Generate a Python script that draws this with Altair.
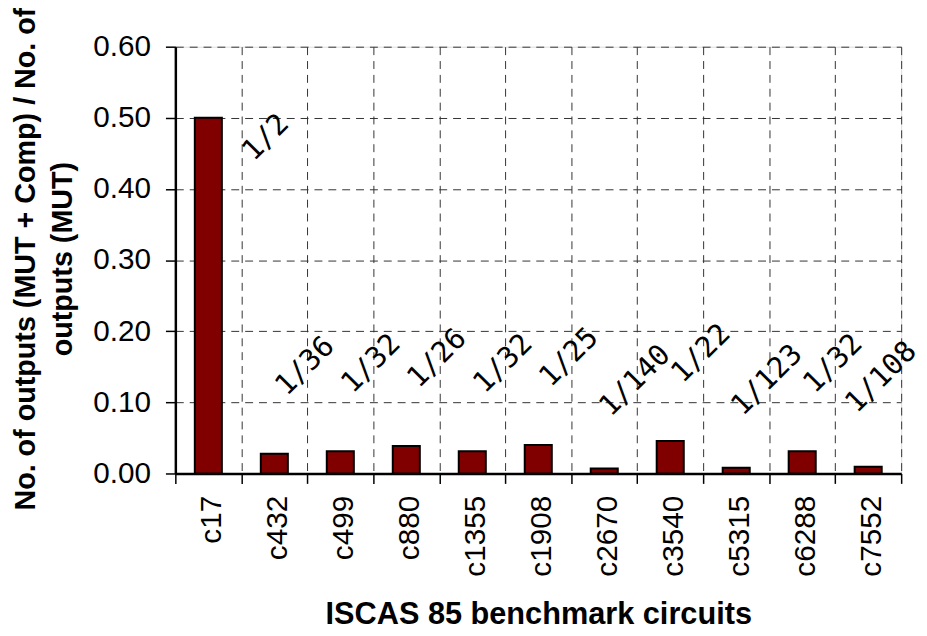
import altair as alt
import pandas as pd

circuits = ["c17", "c432", "c499", "c880", "c1355", "c1908", "c2670",
            "c3540", "c5315", "c6288", "c7552"]
ratios = [0.500, 0.0278, 0.0313, 0.0385, 0.0313, 0.0400, 0.0071,
          0.0455, 0.0081, 0.0313, 0.0093]
ratio_labels = ["1/2", "1/36", "1/32", "1/26", "1/32", "1/25", "1/140",
                "1/22", "1/123", "1/32", "1/108"]
y_ticks = [0.0, 0.1, 0.2, 0.3, 0.4, 0.5, 0.6]
x_title = "ISCAS 85 benchmark circuits"
y_title = ["No. of outputs (MUT + Comp) / No. of", "outputs (MUT)"]

df = pd.DataFrame({"circuit": circuits, "ratio": ratios, "label": ratio_labels})

FONT = "Liberation Sans"
LABEL_FONT = "DejaVu Sans Mono"
GRID = dict(grid=True, gridDash=[8, 6], gridColor="#333333", gridWidth=1)

x = alt.X(
    "circuit:N", sort=circuits,
    scale=alt.Scale(paddingInner=0, paddingOuter=0),
    axis=alt.Axis(
        title=x_title, labelAngle=-90, labelFontSize=30, labelPadding=12,
        labelOffset=3, tickBand="extent", ticks=True, tickSize=10,
        tickColor="black", tickWidth=1.5, domainColor="black", domainWidth=2.5,
        titleFontSize=31, titleFontWeight="bold", titleY=152,
        titleBaseline="alphabetic", labelColor="black", titleColor="black",
        labelFont=FONT, titleFont=FONT, **GRID,
    ),
)
y = alt.Y(
    "ratio:Q",
    scale=alt.Scale(domain=[0, 0.6], nice=False, zero=True),
    axis=alt.Axis(
        values=y_ticks, format=".2f", title=y_title, labelFontSize=30,
        labelPadding=15, tickSize=10, tickColor="black", tickWidth=1.5,
        domainColor="black", domainWidth=2.5, titleFontSize=29,
        titleFontWeight="bold", titleLineHeight=37, titleX=-142, titleY=214,
        titleBaseline="alphabetic", titleAlign="center", titleAngle=270,
        labelColor="black", titleColor="black", labelFont=FONT, titleFont=FONT,
        **GRID,
    ),
)

base = alt.Chart(df)
bars = base.mark_bar(
    color="#800000", stroke="black", strokeWidth=2,
    width=alt.RelativeBandSize(0.41),
).encode(x=x, y=y)

text_style = dict(angle=315, align="center", baseline="alphabetic",
                  fontSize=29, font=LABEL_FONT, color="black")

labels_small = base.transform_filter(
    "datum.ratio < 0.4 && datum.circuit != 'c7552'"
).mark_text(dx=84.6, dy=-31.8, **text_style).encode(x=x, y=y, text="label:N")

labels_edge = base.transform_filter(
    "datum.circuit == 'c7552'"
).mark_text(dx=73.3, dy=-46, **text_style).encode(x=x, y=y, text="label:N")

labels_big = base.transform_filter("datum.ratio >= 0.4").mark_text(
    dx=27, dy=63.9, **text_style
).encode(x=x, y=y, text="label:N")

chart = alt.layer(bars, labels_small, labels_edge, labels_big).properties(
    width=733, height=431,
    padding={"left": 169, "top": 36, "right": 18, "bottom": 156},
    autosize=alt.AutoSizeParams(type="none"),
).configure_view(
    stroke="black", strokeWidth=2.5
).configure(background="white")

chart.save("out.html", embed_options={"renderer": "svg", "actions": False})
